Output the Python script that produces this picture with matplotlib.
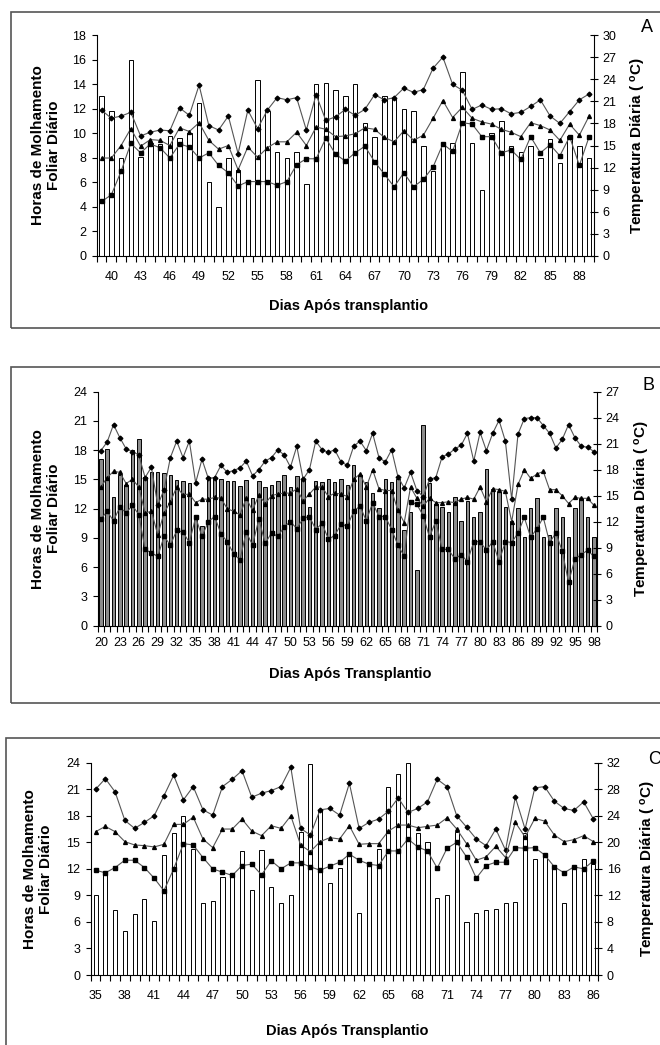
import matplotlib.pyplot as plt
from matplotlib.patches import Rectangle

plt.rcParams['font.family'] = ['Liberation Sans', 'DejaVu Sans']
plt.rcParams['mathtext.default'] = 'regular'

# ---- Panel A: days 39-89 ----
days_a = list(range(39, 90))
wet_a = [13.0, 11.8, 8.0, 16.0, 8.1, 9.2, 9.1, 9.8, 9.6, 10.0, 12.5, 6.0, 4.0, 8.0, 7.0, 6.0,
         14.3, 11.8, 8.5, 8.0, 8.5, 5.9, 14.0, 14.1, 13.5, 13.0, 14.0, 10.8, 9.7, 13.0, 12.8,
         12.0, 11.8, 9.0, 6.9, 9.2, 9.2, 15.0, 9.2, 5.4, 10.0, 11.0, 9.0, 8.5, 9.0, 8.0, 9.5,
         7.6, 9.8, 9.0, 8.0]
tmax_a = [19.8, 18.7, 19.0, 19.5, 16.3, 16.8, 17.1, 17.0, 20.1, 19.1, 23.2, 17.7, 17.1, 19.0,
          13.9, 19.8, 17.3, 19.8, 21.5, 21.2, 21.5, 17.1, 21.9, 18.4, 18.9, 19.9, 19.1, 19.9,
          21.9, 21.2, 21.5, 22.8, 22.2, 22.6, 25.5, 27.0, 23.3, 22.5, 19.9, 20.5, 19.9, 20.0,
          19.3, 19.5, 20.3, 21.2, 19.0, 18.0, 19.6, 21.2, 22.0]
tmed_a = [13.3, 13.3, 15.0, 17.3, 14.9, 15.8, 15.7, 15.0, 17.4, 16.9, 18.1, 15.7, 14.5, 15.0,
          11.7, 14.8, 13.4, 14.7, 15.5, 15.5, 16.8, 15.0, 17.5, 17.2, 16.2, 16.3, 16.6, 17.4,
          17.2, 16.1, 15.5, 17.0, 15.7, 16.4, 18.7, 21.1, 18.8, 20.2, 18.7, 18.2, 17.9, 17.2,
          16.8, 16.2, 18.1, 17.7, 17.1, 15.7, 17.9, 16.4, 19.0]
tmin_a = [7.4, 8.3, 11.5, 15.3, 14.0, 15.2, 14.7, 13.3, 15.2, 14.8, 13.3, 14.0, 12.3, 11.3,
          9.5, 10.1, 10.1, 10.1, 9.6, 10.1, 12.4, 13.2, 13.2, 16.0, 13.8, 12.9, 14.0, 14.9,
          12.8, 11.1, 9.4, 11.3, 9.4, 10.4, 12.1, 15.2, 14.2, 18.1, 17.9, 16.2, 16.2, 14.0,
          14.4, 13.1, 16.2, 14.0, 15.1, 13.6, 16.2, 12.3, 16.2]

# ---- Panel B: days 20-98 ----
days_b = list(range(20, 99))
wet_b = [17.1, 18.1, 13.2, 15.5, 14.4, 18.0, 19.2, 15.3, 15.8, 15.8, 15.7, 15.5, 14.9, 14.8,
         14.6, 11.2, 10.2, 15.3, 15.3, 15.0, 14.8, 14.8, 14.3, 14.9, 13.1, 14.8, 14.2, 14.4,
         14.8, 15.5, 14.2, 15.4, 14.9, 12.2, 14.8, 14.7, 15.0, 14.7, 15.0, 14.4, 16.5, 15.5,
         14.7, 13.6, 12.1, 15.0, 14.7, 15.0, 9.8, 11.7, 5.7, 20.6, 14.6, 12.5, 12.2, 11.7,
         13.2, 10.7, 12.8, 11.2, 11.7, 16.1, 14.0, 13.7, 12.2, 10.7, 12.1, 9.1, 12.1, 13.1,
         9.1, 9.3, 12.1, 11.1, 9.1, 12.1, 13.1, 11.1, 9.1]
tmax_b = [20.2, 21.2, 23.2, 21.7, 20.4, 20.1, 19.7, 17.1, 18.3, 13.9, 15.7, 19.4, 21.3, 19.4,
          21.3, 16.5, 19.2, 17.0, 17.1, 18.5, 17.7, 17.9, 18.2, 19.0, 17.3, 18.0, 19.0, 19.4,
          20.3, 19.7, 18.3, 20.7, 16.9, 18.0, 21.3, 20.3, 20.0, 20.3, 18.9, 18.5, 20.7, 21.3,
          20.2, 22.2, 19.4, 18.9, 20.3, 17.2, 15.9, 17.7, 15.6, 14.9, 16.9, 17.1, 19.5, 19.8,
          20.4, 20.8, 22.2, 19.0, 22.3, 20.2, 22.2, 23.7, 21.3, 14.6, 22.1, 23.9, 24.0, 24.0,
          23.1, 22.2, 20.5, 21.5, 23.2, 21.7, 20.7, 20.6, 20.1]
tmed_b = [16.0, 17.1, 17.8, 17.7, 16.4, 16.9, 16.0, 13.0, 13.2, 10.5, 13.0, 14.3, 16.0, 15.1,
          15.2, 14.2, 14.6, 14.6, 14.8, 14.7, 13.5, 13.2, 12.8, 14.7, 13.3, 15.1, 14.1, 15.0,
          15.2, 15.3, 15.3, 15.8, 14.4, 15.2, 16.0, 16.0, 14.9, 15.3, 15.2, 14.9, 16.9, 17.5,
          16.0, 18.0, 15.8, 15.6, 15.6, 13.3, 11.9, 16.0, 14.7, 13.8, 14.7, 14.2, 14.2, 14.3,
          14.2, 14.6, 14.8, 14.6, 16.0, 14.3, 15.8, 15.7, 15.5, 12.0, 16.3, 18.0, 17.0, 17.5,
          17.8, 15.7, 15.7, 15.0, 14.1, 14.8, 14.7, 14.7, 13.9]
tmin_b = [12.3, 13.2, 12.1, 13.7, 13.0, 13.9, 12.8, 8.8, 8.4, 8.0, 10.3, 9.3, 11.0, 10.8,
          9.6, 12.5, 10.3, 12.0, 12.6, 10.6, 9.7, 8.3, 7.6, 10.8, 9.3, 12.3, 9.5, 10.7,
          10.3, 11.4, 12.0, 11.2, 12.4, 12.6, 11.1, 11.8, 10.0, 10.4, 11.7, 11.5, 13.2, 13.8,
          12.1, 14.2, 12.6, 12.6, 11.1, 9.3, 8.0, 14.3, 14.0, 12.7, 10.2, 12.1, 8.8, 8.8,
          7.7, 8.2, 7.4, 9.7, 9.7, 8.7, 9.7, 7.4, 9.7, 9.6, 10.7, 12.5, 10.2, 11.2,
          12.5, 9.6, 10.7, 8.6, 5.0, 7.7, 8.2, 8.7, 8.0]

# ---- Panel C: days 35-86 ----
days_c = list(range(35, 87))
wet_c = [9.0, 11.5, 7.3, 5.0, 6.9, 8.6, 6.1, 13.6, 16.0, 18.0, 14.2, 8.1, 8.4, 11.1, 11.5,
         14.0, 9.6, 14.1, 10.0, 8.1, 9.1, 16.2, 23.8, 18.6, 10.4, 12.1, 13.4, 7.0, 12.4,
         14.3, 21.3, 22.7, 24.0, 16.0, 15.0, 8.7, 9.1, 16.2, 6.0, 7.0, 7.3, 7.5, 8.1, 8.3,
         16.0, 13.1, 13.4, 12.2, 8.1, 12.2, 13.1, 12.6]
tmax_c = [28.0, 29.6, 27.6, 23.3, 22.1, 23.0, 24.0, 27.0, 30.1, 26.4, 28.4, 24.9, 24.1, 28.4,
          29.5, 30.8, 26.8, 27.4, 27.8, 28.4, 31.3, 22.1, 21.1, 24.9, 25.1, 24.1, 28.9, 22.1,
          23.0, 23.5, 24.7, 26.7, 24.5, 25.1, 26.1, 29.5, 28.4, 24.0, 22.3, 20.5, 19.5, 22.0,
          18.8, 26.8, 22.0, 28.2, 28.4, 26.2, 25.1, 24.8, 26.1, 23.5]
tmed_c = [21.6, 22.4, 21.6, 20.1, 19.6, 19.5, 19.3, 19.7, 22.7, 22.7, 23.8, 20.5, 19.2, 22.0,
          22.0, 23.5, 21.7, 21.0, 22.5, 22.1, 24.0, 19.6, 18.6, 20.1, 20.7, 20.5, 22.5, 19.7,
          19.8, 19.8, 21.7, 22.6, 22.6, 22.2, 22.4, 22.6, 23.7, 22.0, 19.8, 17.3, 17.8, 19.4,
          17.7, 23.0, 20.8, 23.6, 23.2, 21.1, 20.1, 20.4, 21.0, 20.1]
tmin_c = [15.8, 15.4, 16.2, 17.3, 17.3, 16.2, 14.6, 12.7, 16.0, 19.8, 19.6, 17.7, 16.0, 15.5,
          15.0, 16.5, 16.7, 15.1, 17.2, 16.0, 16.9, 16.9, 16.3, 15.8, 16.4, 17.0, 18.2, 17.3,
          16.7, 16.5, 18.7, 18.7, 20.5, 19.3, 18.7, 16.1, 19.1, 20.0, 17.8, 14.6, 16.5, 17.0,
          17.0, 19.2, 19.1, 19.2, 18.1, 16.3, 15.4, 16.3, 16.0, 17.2]

W, H = 660, 1045
fig = plt.figure(figsize=(W / 100, H / 100), dpi=100)


def box(l, t, r, b):
    # pixel box -> figure fraction
    return [l / W, 1 - b / H, (r - l) / W, (b - t) / H]


panels = [
    dict(days=days_a, wet=wet_a, tx=tmax_a, tm=tmed_a, tn=tmin_a,
         ax=(96.7, 35, 594, 256), frame=(11, 12, 670, 328),
         hmax=18, hstep=2, tlim=30, tstep=3, first=40, bw=0.45, bar_fc='white',
         xlab='Dias Após transplantio', xlab_y=306, letter='A', let_xy=(647, 27),
         ylab_x=46, ylab2_x=639, pad=7),
    dict(days=days_b, wet=wet_b, tx=tmax_b, tm=tmed_b, tn=tmin_b,
         ax=(97.7, 391.7, 597, 625.7), frame=(11, 367, 670, 703),
         hmax=24, hstep=3, tlim=27, tstep=3, first=20, bw=0.55, bar_fc='#8c8c8c',
         xlab='Dias Após Transplantio', xlab_y=674, letter='B', let_xy=(649, 385),
         ylab_x=46, ylab2_x=642, pad=4),
    dict(days=days_c, wet=wet_c, tx=tmax_c, tm=tmed_c, tn=tmin_c,
         ax=(90.7, 762.7, 598.3, 975), frame=(6, 738, 670, 1060),
         hmax=24, hstep=3, tlim=32, tstep=4, first=35, bw=0.42, bar_fc='white',
         xlab='Dias Após Transplantio', xlab_y=1031, letter='C', let_xy=(655, 760),
         ylab_x=38, ylab2_x=648, pad=7),
]

for p in panels:
    l, t, r, b = p['ax']
    days = p['days']

    # frame around each panel
    fl, ft, fr, fb = p['frame']
    fig.add_artist(Rectangle((fl / W, 1 - fb / H), (fr - fl) / W, (fb - ft) / H,
                             transform=fig.transFigure, fill=False,
                             edgecolor='#555555', linewidth=1.2))

    ax = fig.add_axes(box(l, t, r, b))
    ax.bar(days, p['wet'], width=p['bw'], facecolor=p['bar_fc'],
           edgecolor='black', linewidth=0.7)
    ax.set_xlim(days[0] - 0.5, days[-1] + 0.5)
    ax.set_ylim(0, p['hmax'])
    ax.set_yticks(range(0, p['hmax'] + 1, p['hstep']))
    for s in ('top', 'right'):
        ax.spines[s].set_visible(False)

    # category boundary ticks, labels every 3 days
    ax.set_xticks([d - 0.5 for d in days] + [days[-1] + 0.5])
    ax.set_xticklabels([])
    ax.tick_params(axis='x', which='major', length=4, width=0.8, direction='out')
    lab_days = list(range(p['first'], days[-1] + 1, 3))
    ax.set_xticks(lab_days, minor=True)
    ax.set_xticklabels([str(d) for d in lab_days], minor=True)
    ax.tick_params(axis='x', which='minor', length=0, labelsize=9, pad=p['pad'] + 4)
    ax.tick_params(axis='y', length=3.5, width=0.8, labelsize=9, pad=4)

    # temperature lines on the right axis
    ax2 = ax.twinx()
    line_kw = dict(color='#555555', lw=0.8, mfc='black', mec='black')
    ax2.plot(days, p['tx'], marker='D', ms=2.4, **line_kw)
    ax2.plot(days, p['tm'], marker='^', ms=2.8, **line_kw)
    ax2.plot(days, p['tn'], marker='s', ms=2.3, **line_kw)
    ax2.set_ylim(0, p['tlim'])
    ax2.set_yticks(range(0, p['tlim'] + 1, p['tstep']))
    for s in ('top', 'left', 'bottom'):
        ax2.spines[s].set_visible(False)
    ax2.tick_params(axis='y', length=6, width=0.8, direction='inout', labelsize=9, pad=3)

    yc = (t + b) / 2
    fig.text(p['ylab_x'] / W, 1 - yc / H, 'Horas de Molhamento\nFoliar Diário',
             rotation=90, ha='center', va='center', multialignment='center',
             fontsize=11, fontweight='bold', linespacing=1.25)
    fig.text(p['ylab2_x'] / W, 1 - yc / H, 'Temperatura Diária ( $^{o}$C)',
             rotation=90, ha='center', va='center', fontsize=11, fontweight='bold')
    fig.text(((l + r) / 2 + 3) / W, 1 - p['xlab_y'] / H, p['xlab'],
             ha='center', va='center', fontsize=10.5, fontweight='bold')
    lx, ly = p['let_xy']
    fig.text(lx / W, 1 - ly / H, p['letter'], ha='center', va='center', fontsize=13)

fig.savefig('out.png', dpi=100)
